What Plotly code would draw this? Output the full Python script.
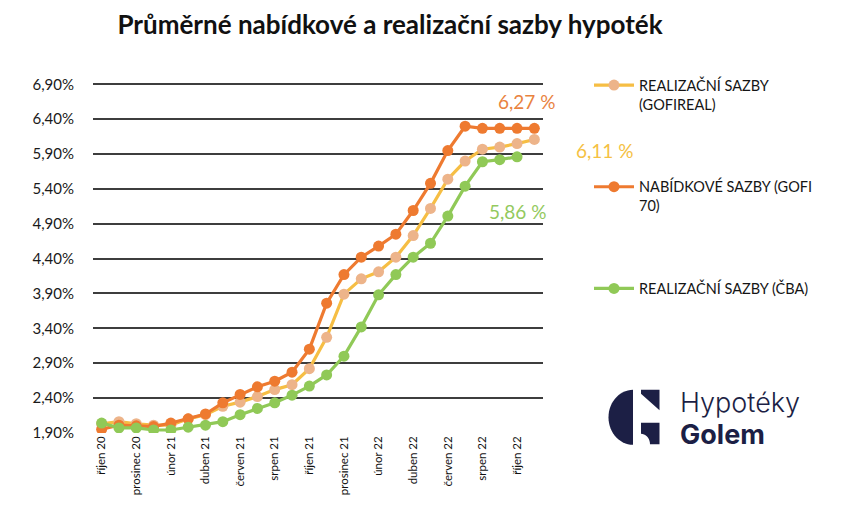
import math
import plotly.graph_objects as go

# ---------------- data ----------------
months = ["říjen 20", "listopad 20", "prosinec 20", "leden 21", "únor 21", "březen 21",
          "duben 21", "květen 21", "červen 21", "červenec 21", "srpen 21", "září 21",
          "říjen 21", "listopad 21", "prosinec 21", "leden 22", "únor 22", "březen 22",
          "duben 22", "květen 22", "červen 22", "červenec 22", "srpen 22", "září 22",
          "říjen 22", "listopad 22"]
tick_months = months[0:25:2]

realizacni_gofireal = [2.03, 2.06, 2.03, 2.01, 2.01, 2.10, 2.16, 2.28, 2.34, 2.42, 2.52, 2.59,
                       2.82, 3.27, 3.89, 4.11, 4.21, 4.42, 4.73, 5.12, 5.54, 5.80, 5.97, 6.00,
                       6.05, 6.11]
nabidkove_gofi70 = [1.95, 2.01, 2.00, 1.99, 2.04, 2.10, 2.17, 2.33, 2.45, 2.56, 2.64, 2.77,
                    3.10, 3.76, 4.17, 4.42, 4.58, 4.75, 5.09, 5.48, 5.95, 6.30, 6.27, 6.27,
                    6.27, 6.27]
realizacni_cba = [2.04, 1.97, 1.97, 1.94, 1.94, 1.98, 2.01, 2.06, 2.16, 2.25, 2.33, 2.44,
                  2.57, 2.73, 3.00, 3.42, 3.88, 4.17, 4.42, 4.62, 5.01, 5.44, 5.79, 5.82,
                  5.86]

series_names = ["REALIZAČNÍ SAZBY<br>(GOFIREAL)", "NABÍDKOVÉ SAZBY (GOFI<br>70)",
                "REALIZAČNÍ SAZBY (ČBA)"]

# ---------------- layout helpers ----------------
# the page body has an 8px margin, so the figure is drawn 8px right/down
OFF = 8
W_FIG, H_FIG = 850 - OFF, 516 - OFF
Y_RANGE = [1.897, 6.92]
# value->pixel calibration from the reference (page pixels)
PX_PER_UNIT = (433 - 84.3) / 5.0
L, R = 93, 543
B = 433 + (1.9 - Y_RANGE[0]) * PX_PER_UNIT
T = 84.3 - (Y_RANGE[1] - 6.9) * PX_PER_UNIT
PW, PH = R - L, B - T


def px2x(px):
    return (px - L) / PW


def py2y(py):
    return (B - py) / PH


C_ORANGE = "#EE7A30"
C_YELLOW = "#F6BE44"
C_YELLOW_MK = "#EDB48A"
C_GREEN = "#90C957"
NAVY = "#1C1F45"

fig = go.Figure()

fig.add_trace(go.Scatter(
    x=months, y=realizacni_gofireal, name=series_names[0], mode="lines+markers",
    line=dict(color=C_YELLOW, width=3.2), marker=dict(color=C_YELLOW_MK, size=11),
    legendgroup="a"))
fig.add_trace(go.Scatter(
    x=months, y=nabidkove_gofi70, name=series_names[1], mode="lines+markers",
    line=dict(color=C_ORANGE, width=3.2), marker=dict(color=C_ORANGE, size=11),
    legendgroup="b"))
fig.add_trace(go.Scatter(
    x=months[:len(realizacni_cba)], y=realizacni_cba, name=series_names[2], mode="lines+markers",
    line=dict(color=C_GREEN, width=3.2), marker=dict(color=C_GREEN, size=11),
    legendgroup="c"))


def fmt(v):
    return f"{v:.2f}".replace(".", ",") + " %"


# end-value labels
fig.add_annotation(x=months[len(nabidkove_gofi70) - 1], y=nabidkove_gofi70[-1], text=fmt(nabidkove_gofi70[-1]),
                   showarrow=False, xshift=-8, yshift=27,
                   font=dict(family="Lato", size=19, color="#E9833F"))
fig.add_annotation(x=months[len(realizacni_gofireal) - 1], y=realizacni_gofireal[-1],
                   text=fmt(realizacni_gofireal[-1]),
                   showarrow=False, xshift=70, yshift=-11,
                   font=dict(family="Lato", size=19, color="#F5C143"))
fig.add_annotation(x=months[len(realizacni_cba) - 1], y=realizacni_cba[-1], text=fmt(realizacni_cba[-1]),
                   showarrow=False, xshift=0, yshift=-55,
                   font=dict(family="Lato", size=19, color="#93C95E"))

# ---------------- logo ----------------
shapes = []


def poly(points):
    d = "M " + " L ".join(f"{px2x(a):.5f},{py2y(b):.5f}" for a, b in points) + " Z"
    return dict(type="path", xref="paper", yref="paper", path=d,
                fillcolor=NAVY, line=dict(width=0), layer="above")


cx, cy, rx, ry = 633, 417.5, 24.5, 27.5
half = [(cx + rx * math.cos(math.radians(a)), cy + ry * math.sin(math.radians(a)))
        for a in range(90, 271, 6)]
shapes.append(poly(half))
shapes.append(poly([(641, 390), (659.5, 390), (659.5, 410.5), (641, 394)]))
notch = [(641 + 9 * math.cos(math.radians(a)), 444.5 - 10.5 * math.sin(math.radians(a)))
         for a in range(0, 91, 10)]
shapes.append(poly([(641, 423), (659.5, 423), (659.5, 444.5), (650, 444.5)] + notch[1:-1] + [(641, 434)]))

fig.add_annotation(xref="paper", yref="paper", x=px2x(678), y=py2y(403), xanchor="left",
                   yanchor="middle", text="Hypotéky", showarrow=False,
                   font=dict(family="Inter", size=27, color=NAVY, weight=300))
fig.add_annotation(xref="paper", yref="paper", x=px2x(678), y=py2y(435), xanchor="left",
                   yanchor="middle", text="Golem", showarrow=False,
                   font=dict(family="Inter", size=27, color=NAVY, weight=700))

fig.update_layout(
    width=W_FIG, height=H_FIG,
    margin=dict(l=L - OFF, r=850 - R, t=T - OFF, b=516 - B, pad=0),
    paper_bgcolor="white", plot_bgcolor="white",
    separators=", ",
    font=dict(family="Lato", color="#1a1a1a"),
    title=dict(text="<b>Průměrné nabídkové a realizační sazby hypoték</b>",
               x=(390 - OFF) / W_FIG, xanchor="center", y=1 - (25 - OFF) / H_FIG, yanchor="middle",
               font=dict(family="Lato", size=26, color="#111111")),
    showlegend=True,
    legend=dict(x=px2x(589), y=py2y(69), xanchor="left", yanchor="top",
                valign="top", tracegroupgap=61, itemwidth=40,
                font=dict(family="Lato", size=14.5, color="#151515"),
                bgcolor="rgba(0,0,0,0)"),
    shapes=shapes,
)

fig.update_xaxes(type="category", categoryorder="array", categoryarray=months,
                 range=[-0.5, len(months) - 0.5],
                 tickmode="array", tickvals=tick_months, ticktext=tick_months,
                 tickangle=-90, tickfont=dict(family="Lato", size=11.5, color="#111111"),
                 showgrid=False, showline=False, ticks="", zeroline=False)
fig.update_yaxes(range=Y_RANGE, tick0=1.9, dtick=0.5, tickformat=".2f", ticksuffix="%",
                 showgrid=True, gridcolor="#3d3d3d", gridwidth=1.8,
                 zeroline=False, showline=False, ticks="",
                 ticklabelstandoff=18,
                 tickfont=dict(family="Lato", size=15, color="#1a1a1a"))

fig.write_html("out.html")
